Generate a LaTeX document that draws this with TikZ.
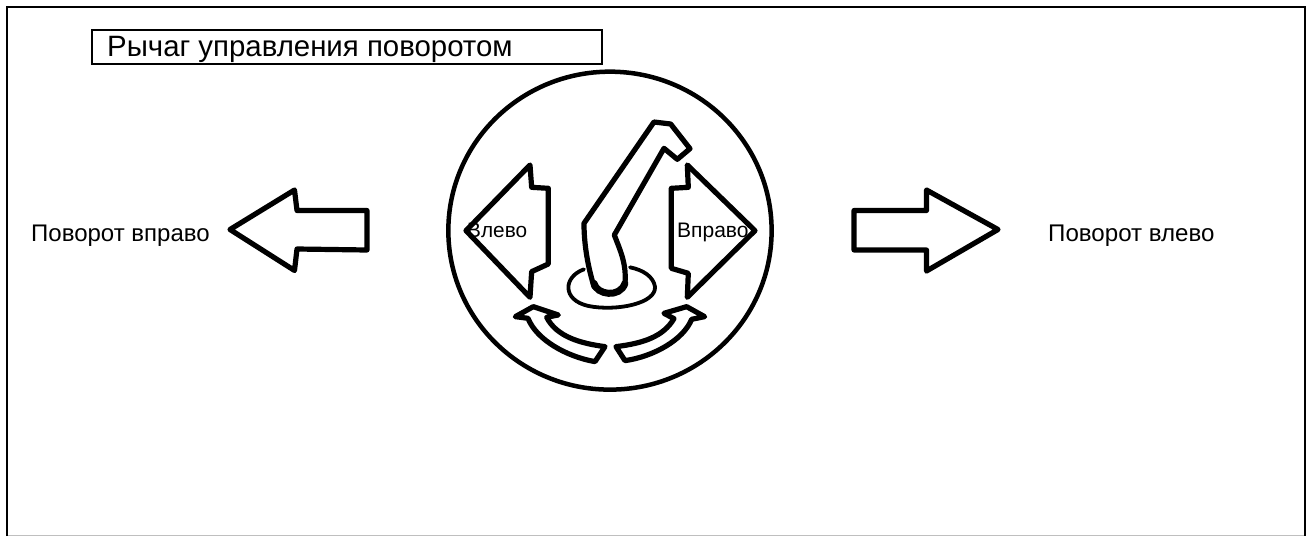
\documentclass[tikz,border=0pt]{standalone}
\usepackage{fontspec}
\setmainfont{Liberation Sans}
\tikzset{
	outline/.style={line width=5.2pt, line join=round, line cap=round},
	label/.style={anchor=base west, inner sep=0pt},
}

\begin{document}
\begin{tikzpicture}[x=1pt, y=-1pt]
	\useasboundingbox (0,0) rectangle (1307,536);
	% Рамка
	\draw[lightgray, line width=1pt] (7,535.5) -- (1305,535.5);
	\draw[line width=2pt] (7,536) -- (7,6.5) -- (1305,6.5) -- (1305,536);
	% Подпись сверху
	\draw[line width=2pt] (92,29.5) rectangle (602,64);
	\node[label, font=\fontsize{29.4}{29.4}\selectfont] (title) at (107,56) {Рычаг управления поворотом};
	% Боковые стрелки
	\draw[outline] (230,229.5) -- (294.5,190) -- (297,210.5) -- (367,210.5) -- (367,250) -- (297,249) -- (294.5,270.5) -- cycle;
	\draw[outline] (998,229.5) -- (926.5,190) -- (926.5,210.5) -- (854,210.5) -- (854,250) -- (926.5,250) -- (926.5,271) -- cycle;
	\node[label, font=\fontsize{24}{24}\selectfont] (rightturn) at (31,241) {Поворот вправо};
	\node[label, font=\fontsize{24.1}{24.1}\selectfont] (leftturn) at (1048,241) {Поворот влево};
	% Круг с рычагом
	\begin{scope}[shift={(430,60)}, x=0.3333pt, y=-0.3333pt]
		\draw[outline, line width=4.5pt] (540,512) ellipse [x radius=485, y radius=477];
		% Большие стрелки внутри круга
		\draw[outline] (108,512) -- (300,315) -- (305,382) -- (355,385) -- (355,612) -- (305,635) -- (300,712) -- cycle;
		\draw[outline] (975,512) -- (772,315) -- (775,382) -- (724,385) -- (724,625) -- (775,640) -- (772,712) -- cycle;
		% Рычаг
		\draw[outline] (492,680) .. controls (480,640) and (462,570) .. (462,490) -- (672,186) -- (722,192) -- (780,266) -- (742,298) -- (702,265) -- (553,525) .. controls (570,570) and (590,610) .. (585,670);
		\draw[line width=7pt, line cap=round] (492,670) .. controls (500,705) and (570,715) .. (585,670);
		\draw[outline, line width=3.8pt] (462,628) .. controls (400,650) and (395,720) .. (475,738) .. controls (560,755) and (680,730) .. (675,680) .. controls (670,650) and (640,630) .. (600,622);
		% Дуговые стрелки снизу
		\draw[outline] (256,770) -- (310,740) -- (385,765) -- (350,772) .. controls (380,830) and (450,850) .. (525,860) -- (495,905) .. controls (410,890) and (320,840) .. (294,775) -- cycle;
		\draw[outline] (824,770) -- (770,740) -- (702,760) -- (732,776) .. controls (700,830) and (640,850) .. (558,860) -- (585,902) .. controls (670,890) and (760,840) .. (785,778) -- cycle;
	\end{scope}
	% Надписи на стрелках
	\node[label, font=\fontsize{20.8}{20.8}\selectfont] (leftword) at (467,237) {Влево};
	\node[label, font=\fontsize{21}{21}\selectfont] (rightword) at (677,237) {Вправо};
\end{tikzpicture}
\end{document}
